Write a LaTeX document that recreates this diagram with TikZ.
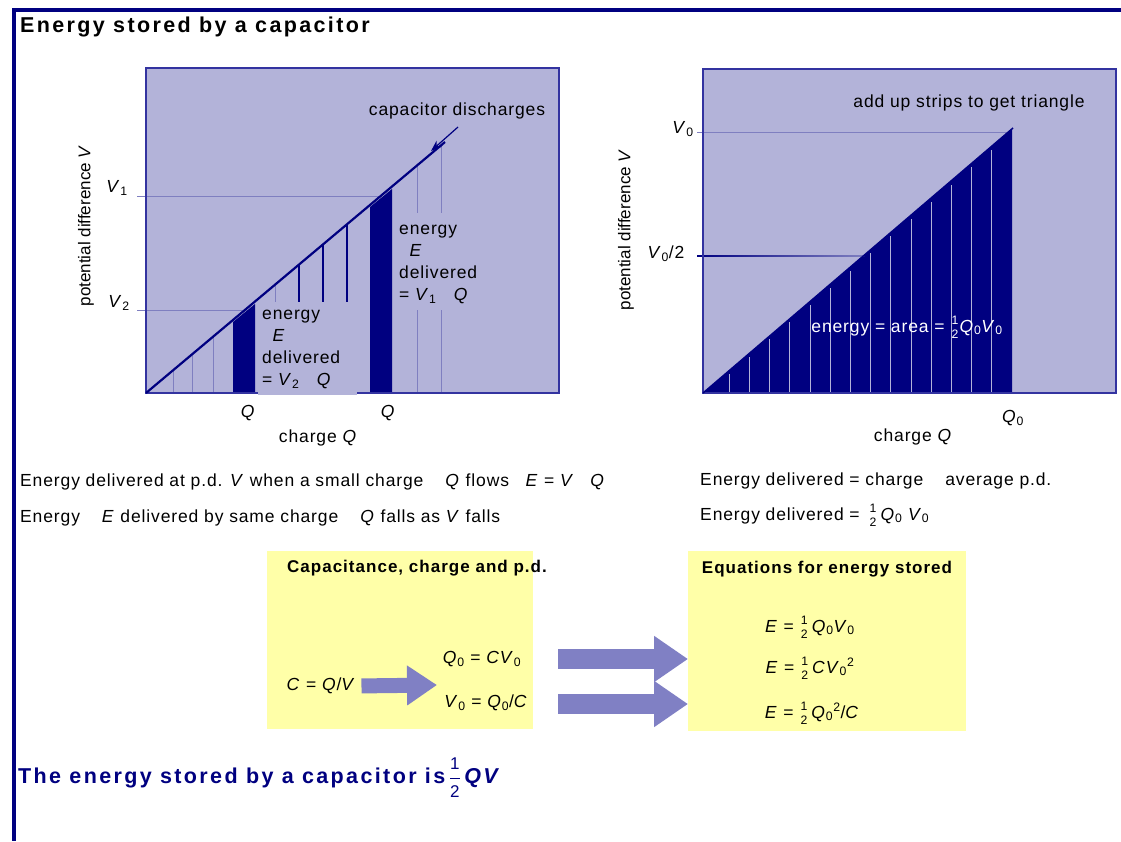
\documentclass[tikz,border=0pt]{standalone}
\usepackage{fontspec}
\setmainfont{Liberation Sans}[LetterSpace=5]
\usepackage{amsmath}
\usetikzlibrary{arrows.meta, positioning, calc}
\definecolor{plotfill}{HTML}{B3B3D9}
\definecolor{darknavy}{HTML}{000080}
\definecolor{plotedge}{HTML}{3333A0}
\definecolor{stripline}{HTML}{7F7FC0}
\definecolor{padyellow}{HTML}{FFFFA8}
\definecolor{arrowblue}{HTML}{8080C4}
\newcommand{\half}{\ensuremath{\genfrac{}{}{0pt}{}{\text{1}}{\text{2}}}}
\newcommand{\sub}[1]{\textsubscript{#1}}
\newcommand{\iQ}{\textit{Q}}
\newcommand{\iV}{\textit{V}}

\begin{document}
\begin{tikzpicture}[x=1pt, y=-1pt,
    txt/.style={font=\fontsize{17.5}{22}\selectfont, inner sep=0pt},
    axistxt/.style={font=\fontsize{17}{20}\selectfont\addfontfeatures{LetterSpace=0}, inner sep=0pt, rotate=90},
    boldtxt/.style={font=\fontsize{17}{20}\selectfont\bfseries\addfontfeatures{LetterSpace=6}, inner sep=0pt},
    headtxt/.style={font=\fontsize{21.5}{24}\selectfont\bfseries\addfontfeatures{LetterSpace=11}, inner sep=0pt, anchor=west},
    yellowpad/.style={fill=padyellow, anchor=north west, inner sep=0pt},
    bigarrow/.style={arrowblue, line width=20pt, -{Triangle[length=34pt, width=44pt]}},
    smallarrow/.style={arrowblue, line width=15pt, -{Triangle[length=30pt, width=38pt]}}]
  \useasboundingbox (0,0) rectangle (1121,841);

  % Marco
  \fill[darknavy] (12,8) rectangle (1121,12);
  \fill[darknavy] (12,8) rectangle (16,841);
  \node[headtxt] (title) at (20,27) {Energy stored by a capacitor};

  % Grafica izquierda: tiras
  \fill[plotfill] (146,68) rectangle (559,393);
  \draw[stripline] (137,196) -- (380,196);
  \draw[stripline] (137,310) -- (253,310);
  \foreach \x in {173,192,213}
    \draw[stripline] (\x,393) -- (\x,{393-0.84*(\x-146)});
  \draw[stripline] (275,{393-0.84*129}) -- (275,303);
  \foreach \x in {417,441} {
    \draw[stripline] (\x,{393-0.84*(\x-146)}) -- (\x,213);
    \draw[stripline] (\x,310) -- (\x,393);
  }
  \fill[darknavy] (233,393) -- (233,322) -- (255,304) -- (255,393) -- cycle;
  \fill[darknavy] (370,393) -- (370,207) -- (392,189) -- (392,393) -- cycle;
  \foreach \x in {299,323,347}
    \draw[darknavy, line width=2pt] (\x,{393-0.84*(\x-146)}) -- (\x,303);
  \draw[plotedge, line width=1.2pt] (146,68) rectangle (559,393);
  \fill[plotfill] (258,302) rectangle (357,395);
  \draw[darknavy, line width=2.2pt] (146,393) -- (445,142);
  \draw[darknavy, line width=1.2pt, -{Stealth[length=11pt, width=8pt]}] (458,127) -- (431,151);

  \node[txt] (discharge) at (457,111) {capacitor discharges};
  \node[txt, anchor=north west, align=left] (blocktwo) at (262,310) {energy\\ \hspace{0.6em}\textit{E}\\ delivered\\ = \iV\sub{2}\quad\iQ};
  \node[txt, anchor=north west, align=left] (blockone) at (399,225) {energy\\ \hspace{0.6em}\textit{E}\\ delivered\\ = \iV\sub{1}\quad\iQ};
  \node[txt] (vone) at (117,188) {\iV\sub{1}};
  \node[txt] (vtwo) at (119,303) {\iV\sub{2}};
  \node[axistxt] (pdleft) at (86,226) {potential difference \iV};
  \node[txt] (qone) at (248,413) {\iQ};
  \node[txt] (qtwo) at (388,413) {\iQ};
  \node[txt] (chargeleft) at (318,438) {charge \iQ};

  % Grafica derecha: triangulo
  \fill[plotfill] (703,69) rectangle (1116,393);
  \draw[stripline] (697,132) -- (1010,132);
  \fill[darknavy] (703,393) -- (1012,129) -- (1012,393) -- cycle;
  \foreach \i in {0,...,13}
    \draw[plotfill, line width=0.6pt] ({729+20.2*\i},392) -- ({729+20.2*\i},{396-0.852*(26+20.2*\i)});
  \shade[left color=darknavy, right color=stripline] (697,255.3) rectangle (864,256.7);
  \draw[plotedge, line width=1.2pt] (703,69) rectangle (1116,393);
  \draw[darknavy, line width=1.5pt] (703,393) -- (1013,128);

  \node[txt] (strips) at (969,103) {add up strips to get triangle};
  \node[txt, white] (area) at (907,327) {energy = area = \half\iQ\sub{0}\iV\sub{0}};
  \node[txt] (vzero) at (683,129) {\iV\sub{0}};
  \node[txt] (vhalf) at (666,254) {\iV\sub{0}/2};
  \node[axistxt] (pdright) at (626,230) {potential difference \iV};
  \node[txt] (qzero) at (1013,418) {\iQ\sub{0}};
  \node[txt] (chargeright) at (913,437) {charge \iQ};

  % Texto explicativo
  \node[txt, anchor=west] (lineone) at (20,482) {Energy delivered at p.d. \iV\ when a small charge \ \hspace{0.6em}\iQ\ flows \ \hspace{0.3em}\textit{E} = \iV\ \hspace{0.6em}\iQ};
  \node[txt, anchor=west] (linetwo) at (20,518) {Energy \ \hspace{0.6em}\textit{E} delivered by same charge \ \hspace{0.6em}\iQ\ falls as \iV\ falls};
  \node[txt, anchor=west] (linethree) at (700,481) {Energy delivered = charge \ \hspace{0.6em}average p.d.};
  \node[txt, anchor=west] (linefour) at (700,515) {Energy delivered = \,\half\,\iQ\sub{0} \iV\sub{0}};

  % Cajas amarillas
  \node[yellowpad, minimum width=266pt, minimum height=178pt] (cappad) at (267,551) {};
  \node[yellowpad, minimum width=278pt, minimum height=180pt] (eqpad) at (688,551) {};
  \node[boldtxt] (captitle) at (417,568) {Capacitance, charge and p.d.};
  \node[boldtxt] (eqtitle) at (827,569) {Equations for energy stored};
  \node[txt] (cqv) at (321,686) {\textit{C} = \iQ/\iV};
  \node[txt] (qcv) at (482,659) {\iQ\sub{0} = \textit{C}\iV\sub{0}};
  \node[txt] (vqc) at (486,703) {\iV\sub{0} = \iQ\sub{0}/\textit{C}};
  \node[txt] (eone) at (810,627) {\textit{E} = \half\,\iQ\sub{0}\iV\sub{0}};
  \node[txt] (etwo) at (810,668) {\textit{E} = \half\,\textit{C}\iV\sub{0}\textsuperscript{2}};
  \node[txt] (ethree) at (812,713) {\textit{E} = \half\,\iQ\sub{0}\textsuperscript{2}/\textit{C}};

  % Flechas
  \coordinate (split) at (437,685);
  \coordinate (qout) at (558,659);
  \coordinate (vout) at (558,704);
  \draw[smallarrow, shorten <=6pt] (cqv.east) -- (split);
  \draw[bigarrow] (qout) -- (qout -| eqpad.west);
  \draw[bigarrow] (vout) -- (vout -| eqpad.west);

  % Conclusion
  \node[headtxt, darknavy] (summary) at (18,778) {The energy stored by a capacitor is\,$\dfrac{\text{\mdseries\fontsize{17}{17}\selectfont 1}}{\text{\mdseries\fontsize{17}{17}\selectfont 2}}$\,\textit{QV}};
\end{tikzpicture}
\end{document}
